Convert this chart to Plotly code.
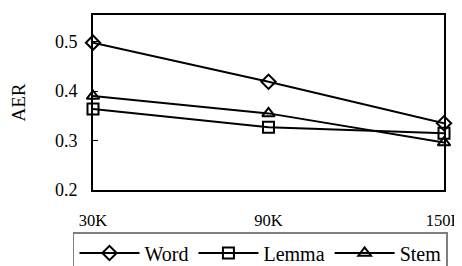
import plotly.graph_objects as go

categories = [30, 90, 150]
tick_labels = ["30K", "90K", "150K"]
word = [0.498, 0.419, 0.335]
lemma = [0.364, 0.327, 0.315]
stem = [0.390, 0.355, 0.296]
y_ticks = [0.2, 0.3, 0.4, 0.5]
y_tick_labels = ["0.2", "0.3", "0.4", "0.5"]

FONT = "Liberation Serif, Times New Roman, serif"

fig = go.Figure()
series = [("Word", word, "diamond-open"), ("Lemma", lemma, "square-open"), ("Stem", stem, "triangle-up-open")]
for name, vals, sym in series:
    fig.add_trace(go.Scatter(
        x=categories, y=vals, name=name, mode="lines+markers",
        line=dict(color="black", width=2),
        marker=dict(symbol=sym, size=11, color="black", line=dict(width=2, color="black")),
        cliponaxis=False,
    ))

# the page body adds an 8px margin; size the figure so it fills the 462x266 window
fig.update_layout(
    width=454, height=258,
    margin=dict(l=85, r=18, t=7, b=76, autoexpand=False),
    paper_bgcolor="white", plot_bgcolor="white",
    font=dict(family=FONT, color="black"),
    showlegend=True,
    legend=dict(
        orientation="h", x=-0.057, y=-0.24, xanchor="left", yanchor="top",
        bordercolor="#808080", borderwidth=1.5,
        font=dict(family=FONT, size=20, color="black"),
        itemwidth=60, tracegroupgap=0,
    ),
)
fig.update_xaxes(
    range=[30, 150], tickvals=categories, ticktext=tick_labels,
    showgrid=False, zeroline=False, showline=True, linecolor="black", linewidth=2,
    mirror=True, ticks="", tickfont=dict(family=FONT, size=16.5, color="black"),
    ticklabelstandoff=14, automargin=False, ticklabeloverflow="allow",
)
fig.update_yaxes(
    range=[0.2, 0.554], tickvals=y_ticks, ticktext=y_tick_labels,
    showgrid=False, zeroline=False, showline=True, linecolor="black", linewidth=2,
    mirror=True, ticks="inside", ticklen=5, tickwidth=1, tickcolor="black",
    tickfont=dict(family=FONT, size=18, color="black"),
    ticklabelstandoff=10, automargin=False, ticklabeloverflow="allow",
    title=dict(text="AER", font=dict(family=FONT, size=19, color="black"), standoff=24),
)

fig.write_html("out.html")
